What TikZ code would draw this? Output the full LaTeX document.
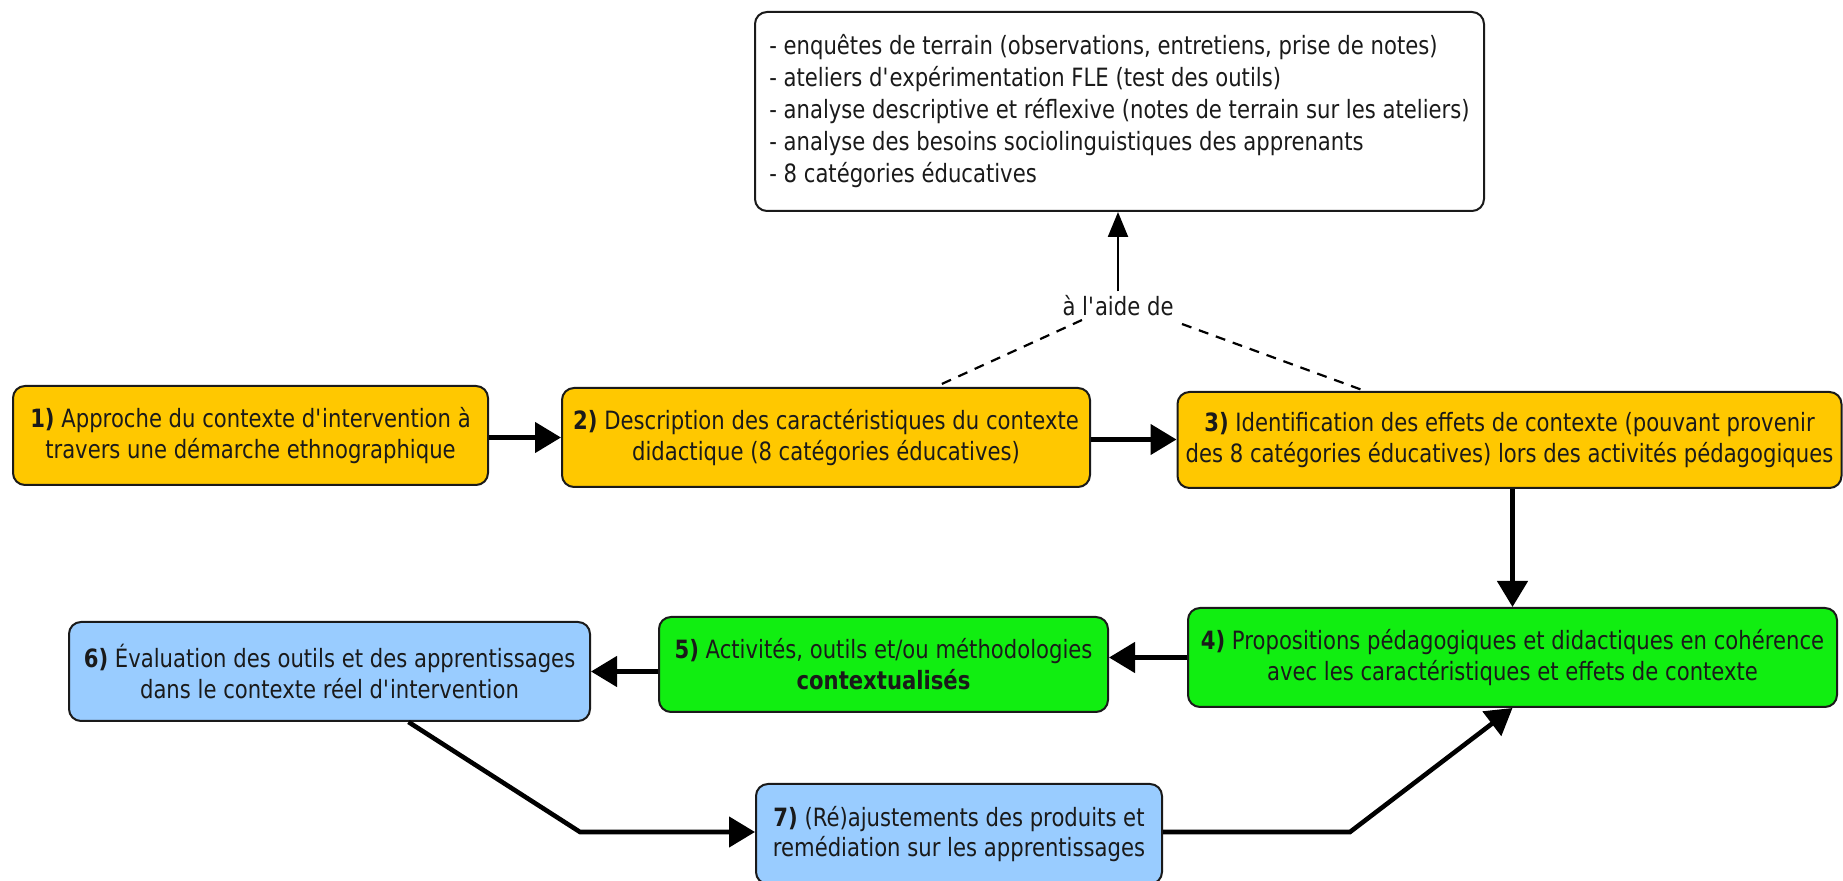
\documentclass[tikz,border=0pt]{standalone}
\usepackage{fontspec}
\setmainfont{DejaVu Sans}[FakeStretch=0.84]
\usetikzlibrary{arrows.meta,calc}
\definecolor{orgc}{HTML}{FFC800}
\definecolor{grnc}{HTML}{11EE11}
\definecolor{bluc}{HTML}{99CCFF}
\definecolor{txtc}{HTML}{1A1A1A}
\newcommand{\qq}{\textquotesingle}
\begin{document}
\begin{tikzpicture}[x=0.5pt,y=-0.5pt,
  box/.style={draw=txtc,line width=1pt,rounded corners=6pt,align=center,inner sep=0pt,
    font=\fontsize{12.6}{15.4}\selectfont,text=txtc},
  yel/.style={box,fill=orgc},
  grn/.style={box,fill=grnc},
  blu/.style={box,fill=bluc},
  arr/.style={line width=2.3pt,-{Triangle[length=13pt,width=15pt]}},
  thinarr/.style={line width=1.1pt,-{Triangle[length=12.5pt,width=10pt]}},
  dsh/.style={line width=1.1pt,dash pattern=on 5pt off 4pt}
]
\fill[white] (0,0) rectangle (1843,881);
\useasboundingbox (0,0) rectangle (1843,881);

% top box
\node[draw=txtc,line width=1pt,rounded corners=6pt,fill=white,text=txtc,
  minimum width=364.5pt,minimum height=99.5pt,inner sep=0pt,
  align=left,font=\fontsize{12.6}{16}\selectfont] (top) at (1119.5,111.5)
  {- enquêtes de terrain (observations, entretiens, prise de notes)\\
   - ateliers d\qq expérimentation FLE (test des outils)\\
   - analyse descriptive et réflexive (notes de terrain sur les ateliers)\\
   - analyse des besoins sociolinguistiques des apprenants\\
   - 8 catégories éducatives};

\node[font=\fontsize{12.6}{15.4}\selectfont,text=txtc,inner sep=2pt] (lab) at (1118,306) {à l\qq aide de};

% row 1
\node[yel,minimum width=237.5pt,minimum height=49.5pt] (b1) at (250.5,435.5)
  {\textbf{1)} Approche du contexte d\qq intervention à\\travers une démarche ethnographique};
\node[yel,minimum width=264pt,minimum height=49.5pt] (b2) at (826,437.5)
  {\textbf{2)} Description des caractéristiques du contexte\\didactique (8 catégories éducatives)};
\node[yel,minimum width=332pt,minimum height=48pt] (b3) at (1509.5,440)
  {\textbf{3)} Identification des effets de contexte (pouvant provenir\\des 8 catégories éducatives) lors des activités pédagogiques};

% row 2
\node[grn,minimum width=324.5pt,minimum height=49.5pt] (b4) at (1512.5,657.5)
  {\textbf{4)} Propositions pédagogiques et didactiques en cohérence\\avec les caractéristiques et effets de contexte};
\node[grn,minimum width=224.5pt,minimum height=47.5pt] (b5) at (883.5,664.5)
  {\textbf{5)} Activités, outils et/ou méthodologies\\\textbf{contextualisés}};
\node[blu,minimum width=260.5pt,minimum height=49.5pt] (b6) at (329.5,671.5)
  {\textbf{6)} Évaluation des outils et des apprentissages\\dans le contexte réel d\qq intervention};

% row 3
\node[blu,minimum width=203pt,minimum height=50pt] (b7) at (959,834)
  {\textbf{7)} (Ré)ajustements des produits et\\remédiation sur les apprentissages};

% connectors
\draw[thinarr] (lab.north) -- (lab.north |- top.south);
\coordinate (dl) at (1082,320);
\coordinate (dr) at (1182,324);
\draw[dsh] (dl) -- ($(b2.north west)!0.706!(b2.north east)$);
\draw[dsh] (dr) -- ($(b3.north west)!0.283!(b3.north east)$);

\draw[arr] ([yshift=-1pt]b1.east) -- ([yshift=-1pt]b1.east -| b2.west);
\draw[arr] ([yshift=-1pt]b2.east) -- ([yshift=-1pt]b2.east -| b3.west);
\draw[arr] (b4.north |- b3.south) -- (b4.north);
\draw[arr] (b4.west) -- (b4.west -| b5.east);
\draw[arr] (b5.west |- b6.east) -- (b6.east);

\coordinate (k1) at (580,832);
\coordinate (k2) at (1350,832);
\draw[arr,line join=miter] ($(b6.south west)!0.651!(b6.south east)$) -- (k1) -- (k1 -| b7.west);
\draw[arr,line join=miter] (b7.east |- k2) -- (k2) -- (b4.south);
\end{tikzpicture}
\end{document}
